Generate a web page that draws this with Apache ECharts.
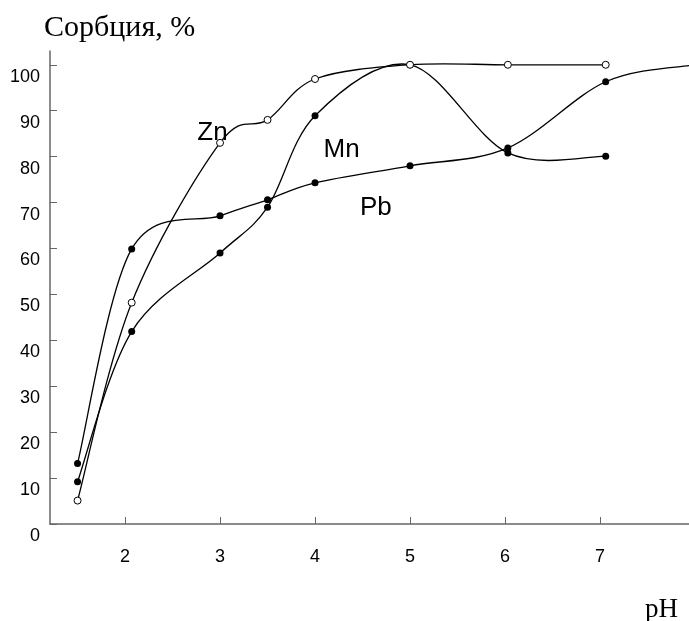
<!DOCTYPE html>
<html>
<head>
<meta charset="utf-8">
<script src="https://cdn.jsdelivr.net/npm/echarts@6/dist/echarts.min.js"></script>
<style>
  html, body { margin: 0; padding: 0; background: #fff; }
  #chart { width: 689px; height: 621px; }
</style>
</head>
<body>
<div id="chart"></div>
<script>
// pH values where samples were taken
const ph = [1.5, 2.07, 3, 3.5, 4, 5, 6.03, 7.06]

// sorption, %
const zn = [5.1, 48.2, 83.0, 88.0, 96.9, 100, 100, 100]
const mn = [9.2, 41.9, 59.0, 69.0, 88.9, 100, 80.8, 80.1]
const pb = [13.2, 59.9, 67.1, 70.6, 74.3, 78.0, 81.9, 96.3]
// Pb curve keeps going past the last sample (no marker there)
const pbTail = [[8, 100]]

const xTicks = [2, 3, 4, 5, 6, 7, 8]
const yTicks = [0, 10, 20, 30, 40, 50, 60, 70, 80, 90, 100]

const axisColor = '#666'
const sans = 'Liberation Sans, Arial, sans-serif'
const serif = 'Liberation Serif, Times New Roman, serif'

function pairs(ys) {
  return ph.map((x, i) => [x, ys[i]])
}

// cardinal (catmull-rom) spline between the pixel points, like the old plotting soft did
function splineGroup(p) {
  const kids = []
  for (let i = 0; i < p.length - 1; i++) {
    const p0 = p[i - 1] || p[i]
    const p1 = p[i]
    const p2 = p[i + 1]
    const p3 = p[i + 2] || p[i + 1]
    kids.push({
      type: 'bezierCurve',
      shape: {
        x1: p1[0], y1: p1[1],
        cpx1: p1[0] + (p2[0] - p0[0]) / 6, cpy1: p1[1] + (p2[1] - p0[1]) / 6,
        cpx2: p2[0] - (p3[0] - p1[0]) / 6, cpy2: p2[1] - (p3[1] - p1[1]) / 6,
        x2: p2[0], y2: p2[1]
      },
      style: { fill: null, stroke: '#000', lineWidth: 1.3 }
    })
  }
  return { type: 'group', children: kids }
}

function curve(name, pts) {
  return {
    name: name + ' curve',
    type: 'custom',
    coordinateSystem: 'cartesian2d',
    silent: true,
    data: pts,
    encode: { x: 0, y: 1 },
    renderItem(params, api) {
      if (params.dataIndex !== 0) return null
      return splineGroup(pts.map(d => api.coord(d)))
    }
  }
}

function curveLabel(text, coord) {
  return {
    silent: true,
    symbol: 'circle',
    symbolSize: 0,
    label: {
      show: true,
      position: 'inside',
      formatter: text,
      color: '#000',
      fontFamily: sans,
      fontSize: 26
    },
    data: [{ coord: coord }]
  }
}

function dots(name, ys, open, labelCoord) {
  return {
    name: name,
    type: 'scatter',
    data: pairs(ys),
    symbol: 'circle',
    symbolSize: 7,
    itemStyle: open
      ? { color: '#fff', borderColor: '#000', borderWidth: 1, opacity: 1 }
      : { color: '#000', opacity: 1 },
    emphasis: { disabled: true },
    markPoint: curveLabel(name, labelCoord)
  }
}

const chart = echarts.init(document.getElementById('chart'))

chart.setOption({
  animation: false,
  backgroundColor: '#fff',
  title: [
    {
      text: 'Сорбция, %',
      left: 39,
      top: 8,
      textStyle: { fontFamily: serif, fontSize: 30, fontWeight: 'normal', color: '#000' }
    },
    {
      text: 'pH',
      left: 640,
      top: 591,
      textStyle: { fontFamily: serif, fontSize: 27, fontWeight: 'normal', color: '#000' }
    }
  ],
  grid: {
    left: 50,
    right: -6,
    top: 51,
    bottom: 97,
    containLabel: false,
    outerBoundsMode: 'none'
  },
  xAxis: {
    type: 'value',
    min: 1.21,
    max: 8,
    axisLine: { show: true, lineStyle: { color: axisColor, width: 1.5 } },
    axisTick: { show: true, inside: true, length: 7, customValues: xTicks, lineStyle: { color: axisColor } },
    axisLabel: {
      customValues: xTicks,
      margin: 24,
      color: '#000',
      fontFamily: sans,
      fontSize: 18
    },
    splitLine: { show: false }
  },
  yAxis: {
    type: 'value',
    min: 0,
    max: 103,
    axisLine: { show: true, lineStyle: { color: axisColor, width: 1.5 } },
    axisTick: { show: true, inside: true, length: 7, customValues: yTicks, lineStyle: { color: axisColor } },
    axisLabel: {
      customValues: yTicks,
      margin: 10,
      verticalAlign: 'top',
      lineHeight: 24,
      color: '#000',
      fontFamily: sans,
      fontSize: 18
    },
    splitLine: { show: false }
  },
  series: [
    curve('Pb', pairs(pb).concat(pbTail)),
    curve('Mn', pairs(mn)),
    curve('Zn', pairs(zn)),
    dots('Pb', pb, false, [4.64, 68.8]),
    dots('Mn', mn, false, [4.28, 81.4]),
    dots('Zn', zn, true, [2.92, 85.1])
  ]
})
</script>
</body>
</html>
